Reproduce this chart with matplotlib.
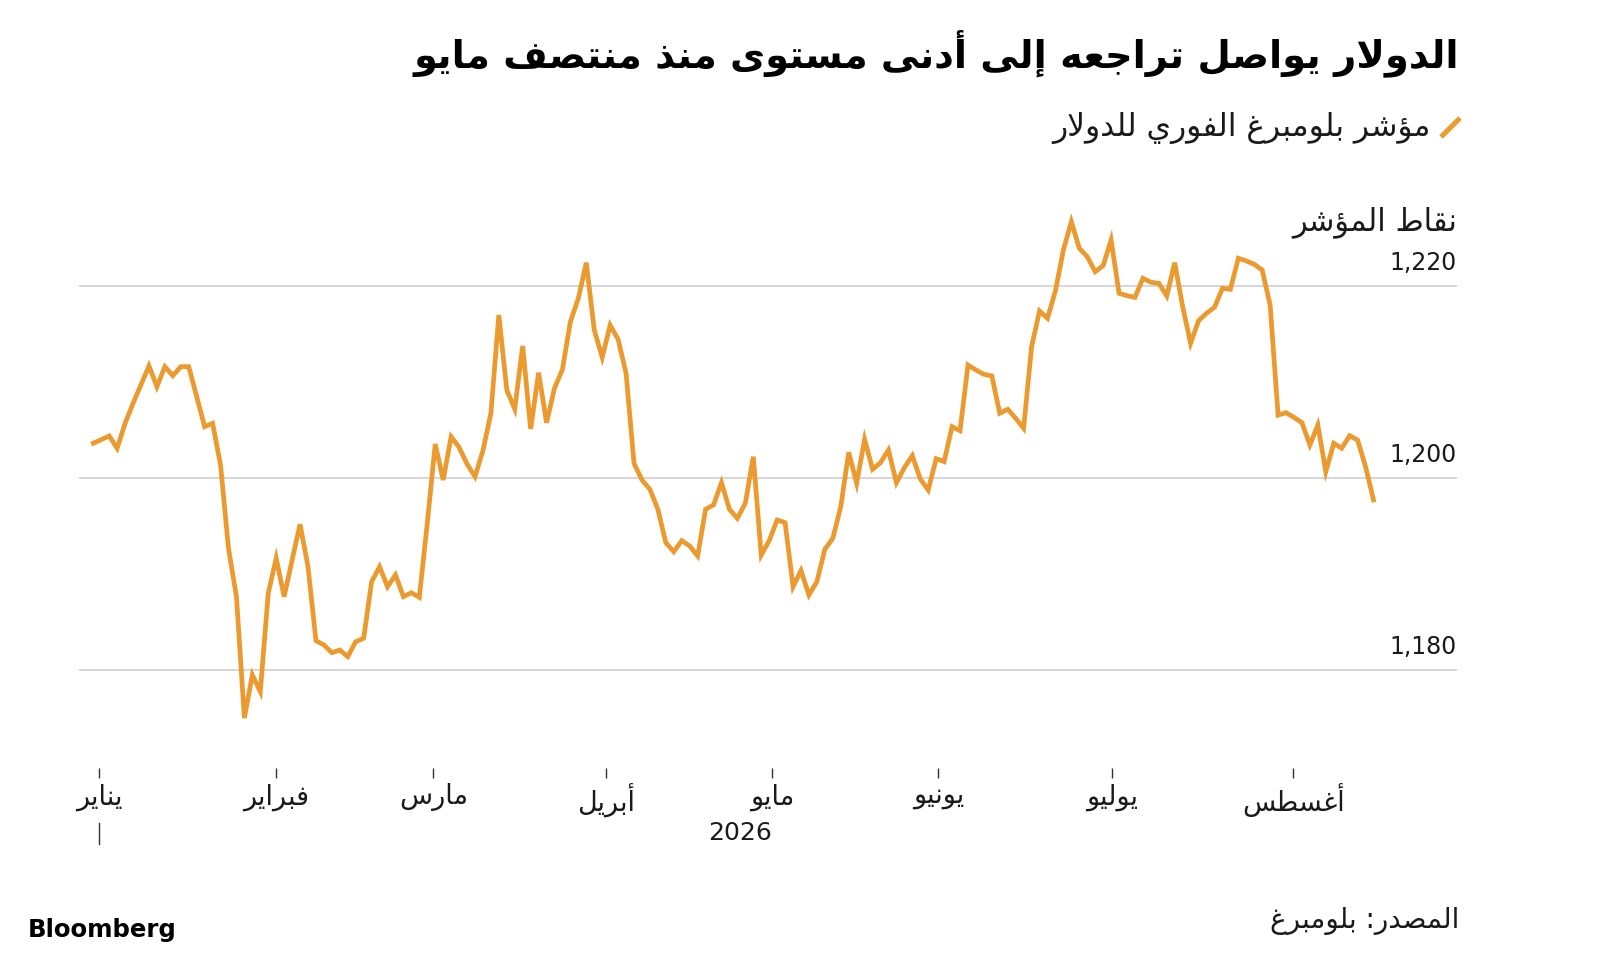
import matplotlib
matplotlib.use("Agg")
import matplotlib.pyplot as plt
import matplotlib.transforms as mtransforms
from matplotlib.lines import Line2D
import numpy as np

# --- texts ---
title = "الدولار يواصل تراجعه إلى أدنى مستوى منذ منتصف مايو"
legend_label = "مؤشر بلومبرغ الفوري للدولار"
y_title = "نقاط المؤشر"
source = "المصدر: بلومبرغ"
year_label = "2026"

months = ["يناير", "فبراير", "مارس", "أبريل", "مايو", "يونيو", "يوليو", "أغسطس"]
# month starts, in trading-day index units
month_pos = [0.75, 22.98, 42.77, 64.45, 85.33, 106.29, 128.1, 150.9]
y_ticks = [1180, 1200, 1220]
y_tick_labels = ["1,180", "1,200", "1,220"]

# Bloomberg dollar spot index, daily closes from 31 Dec 2025
values = [
    1203.65, 1204.02, 1204.41, 1203.13, 1205.73, 1207.81, 1209.76, 1211.70, 1209.54, 1211.63,
    1210.69, 1211.63, 1211.63, 1208.50, 1205.38, 1205.73, 1201.39, 1192.71, 1187.67, 1175.03,
    1179.51, 1177.77, 1188.02, 1191.67, 1187.67, 1191.49, 1195.21, 1190.79, 1183.08, 1182.64,
    1181.83, 1182.11, 1181.42, 1182.98, 1183.33, 1189.23, 1190.79, 1188.71, 1189.93, 1187.67,
    1188.08, 1187.60, 1195.31, 1203.57, 1199.82, 1204.33, 1203.23, 1201.49, 1200.17, 1202.88,
    1206.77, 1217.01, 1209.20, 1207.22, 1213.78, 1205.14, 1211.00, 1205.79, 1209.38, 1211.35,
    1216.31, 1218.75, 1222.46, 1215.45, 1212.60, 1215.94, 1214.48, 1210.94, 1201.56, 1199.82,
    1198.85, 1196.77, 1193.29, 1192.35, 1193.50, 1192.95, 1191.91, 1196.77, 1197.22, 1199.54,
    1196.77, 1195.83, 1197.40, 1202.25, 1192.01, 1193.50, 1195.66, 1195.38, 1188.71, 1190.38,
    1187.84, 1189.23, 1192.60, 1193.75, 1197.04, 1202.71, 1199.48, 1204.06, 1200.94, 1201.63,
    1202.95, 1199.54, 1201.10, 1202.35, 1199.93, 1198.78, 1202.04, 1201.73, 1205.38, 1204.96,
    1211.80, 1211.28, 1210.83, 1210.66, 1206.77, 1207.19, 1206.25, 1205.21, 1213.71, 1217.43,
    1216.67, 1219.54, 1223.78, 1226.73, 1223.96, 1223.08, 1221.52, 1222.15, 1224.82, 1219.27,
    1219.02, 1218.85, 1220.83, 1220.42, 1220.31, 1218.99, 1222.46, 1217.88, 1214.06, 1216.42,
    1217.19, 1217.81, 1219.79, 1219.69, 1222.92, 1222.64, 1222.29, 1221.70, 1218.05, 1206.59,
    1206.83, 1206.35, 1205.79, 1203.47, 1205.55, 1200.69, 1203.65, 1203.13, 1204.44, 1203.99,
    1201.21, 1197.74,
]

LINE_COLOR = "#EA9A2E"
TEXT = "#1a1a1a"

# --- tiny arabic shaper: matplotlib does no contextual shaping or bidi ---
AR_FORMS = {}
_cp = 0xFE80
for _ch, _n in [("ء", 1), ("آ", 2), ("أ", 2), ("ؤ", 2), ("إ", 2), ("ئ", 4), ("ا", 2),
                ("ب", 4), ("ة", 2), ("ت", 4), ("ث", 4), ("ج", 4), ("ح", 4), ("خ", 4),
                ("د", 2), ("ذ", 2), ("ر", 2), ("ز", 2), ("س", 4), ("ش", 4), ("ص", 4),
                ("ض", 4), ("ط", 4), ("ظ", 4), ("ع", 4), ("غ", 4), ("ف", 4), ("ق", 4),
                ("ك", 4), ("ل", 4), ("م", 4), ("ن", 4), ("ه", 4), ("و", 2), ("ى", 2),
                ("ي", 4)]:
    AR_FORMS[_ch] = [chr(_cp + i) for i in range(_n)]
    _cp += _n
LAM_ALEF = {"آ": 0xFEF5, "أ": 0xFEF7, "إ": 0xFEF9, "ا": 0xFEFB}


def n_forms(ch):
    return len(AR_FORMS.get(ch, []))


def ar(text):
    out = []
    i = 0
    while i < len(text):
        ch = text[i]
        prev = text[i - 1] if i > 0 else ""
        nxt = text[i + 1] if i + 1 < len(text) else ""
        joins_prev = n_forms(prev) == 4 and n_forms(ch) >= 2
        if ch == "ل" and nxt in LAM_ALEF:
            out.append(chr(LAM_ALEF[nxt] + (1 if joins_prev else 0)))
            i += 2
            continue
        if ch not in AR_FORMS:
            out.append(ch)
            i += 1
            continue
        forms = AR_FORMS[ch]
        joins_next = len(forms) == 4 and n_forms(nxt) >= 2
        if len(forms) == 1:
            form = 0
        elif joins_prev and joins_next:
            form = 3
        elif joins_prev:
            form = 1
        elif joins_next:
            form = 2
        else:
            form = 0
        out.append(forms[form])
        i += 1
    return "".join(out)[::-1]


plt.rcParams["font.family"] = ["DejaVu Sans"]

W, H = 1600, 964
fig = plt.figure(figsize=(W / 100, H / 100), dpi=100)
fig.patch.set_facecolor("white")


def fx(px):
    return px / W


def fy(py):
    return 1 - py / H


# plot area spans x 78..1457 px, y 200..720 px
ax = fig.add_axes([fx(78.6), fy(720), fx(1457) - fx(78.6), (720 - 200) / H])
x = np.arange(len(values))
ax.plot(x, values, color=LINE_COLOR, lw=3.4, solid_joinstyle="miter", zorder=3)

ax.set_xlim(-1.85, 171.5)
ax.set_ylim(1174.82, 1228.99)

for s in ["top", "right", "left"]:
    ax.spines[s].set_visible(False)
ax.spines["bottom"].set_visible(False)
ax.spines["bottom"].set_position(("outward", 34.5))

ax.set_yticks(y_ticks)
ax.yaxis.grid(True, color="#d3d3d3", lw=1.3)
ax.tick_params(axis="y", length=0, labelleft=False)
ax.set_axisbelow(True)

for v, lab in zip(y_ticks, y_tick_labels):
    ax.annotate(lab, xy=(1, v), xycoords=("axes fraction", "data"),
                xytext=(0, 16.5), textcoords="offset points",
                ha="right", va="center", fontsize=17, color=TEXT)

ax.set_xticks(month_pos)
ax.set_xticklabels([ar(m) for m in months], fontsize=19.5, color=TEXT)
ax.tick_params(axis="x", direction="out", length=7.2, width=1.0, color="#333333", pad=4)

# year marker under January and the year label
trans = mtransforms.blended_transform_factory(ax.transData, ax.transAxes)
ax.plot([month_pos[0], month_pos[0]], [-0.198, -0.238], color="#333333", lw=1.0,
        transform=trans, clip_on=False)
ax.text(month_pos[4], -0.218, year_label, transform=trans, ha="right", va="center",
        fontsize=18, color=TEXT)

# title, legend, axis title
fig.text(fx(1459), fy(53), ar(title), ha="right", va="center", fontsize=27.6,
         weight="bold", color="black")
fig.add_artist(Line2D([fx(1441), fx(1460)], [fy(137), fy(118)], color=LINE_COLOR,
                      lw=3.6, solid_capstyle="butt"))
fig.text(fx(1431), fy(128), ar(legend_label), ha="right", va="center", fontsize=22.5,
         color=TEXT)
fig.text(fx(1457), fy(222), ar(y_title), ha="right", va="center", fontsize=22,
         color=TEXT)

# footer
fig.text(fx(28), fy(930), "Bloomberg", ha="left", va="center", fontsize=17.6,
         weight="bold", color="black")
fig.text(fx(1459), fy(921), ar(source), ha="right", va="center", fontsize=20,
         color=TEXT)

fig.savefig("out.png", dpi=100, facecolor="white")
